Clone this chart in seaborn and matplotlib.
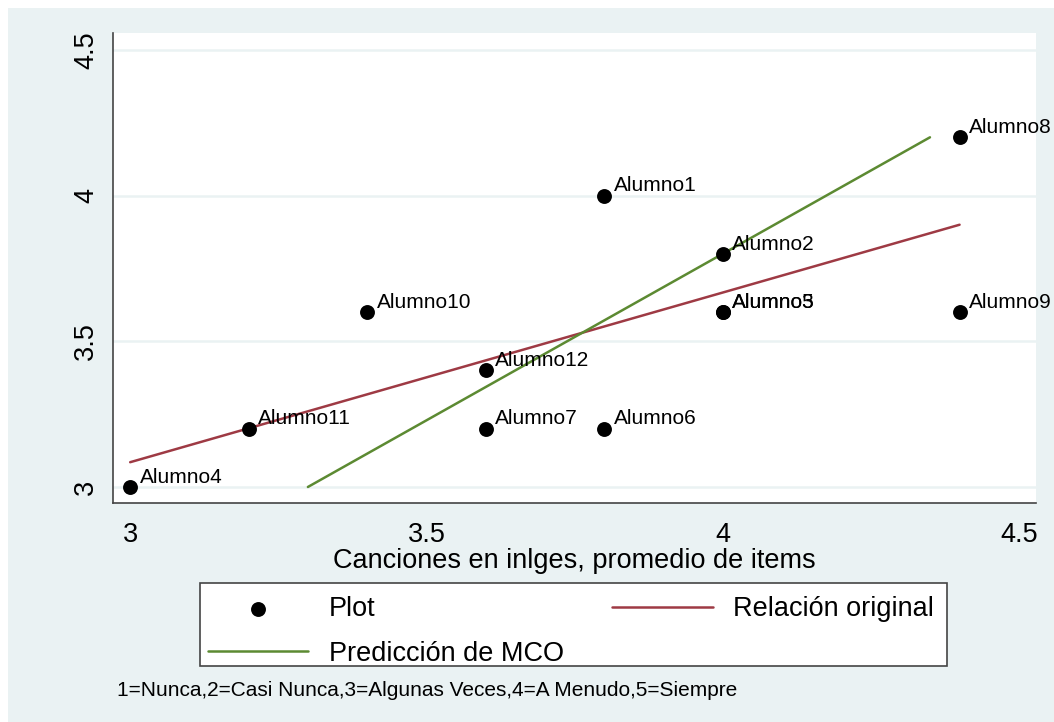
import matplotlib
matplotlib.use("Agg")
import matplotlib.pyplot as plt
import matplotlib.patches as mpatches
import seaborn as sns
import pandas as pd

# -----------------------------
# Data
# -----------------------------
alumnos = ["Alumno1", "Alumno2", "Alumno3", "Alumno4", "Alumno5", "Alumno6",
           "Alumno7", "Alumno8", "Alumno9", "Alumno10", "Alumno11", "Alumno12"]
canciones = [3.8, 4.0, 4.0, 3.0, 4.0, 3.8, 3.6, 4.4, 4.4, 3.4, 3.2, 3.6]
promedio = [4.0, 3.8, 3.6, 3.0, 3.6, 3.2, 3.2, 4.2, 3.6, 3.6, 3.2, 3.4]

# line end points
rel_x = [3.0, 4.4]
rel_y = [3.085, 3.90]
mco_x = [3.3, 4.35]
mco_y = [3.0, 4.2]

x_ticks = [3, 3.5, 4, 4.5]
y_ticks = [3, 3.5, 4, 4.5]
x_title = "Canciones en inlges, promedio de items"
note = "1=Nunca,2=Casi Nunca,3=Algunas Veces,4=A Menudo,5=Siempre"

df = pd.DataFrame({"alumno": alumnos, "x": canciones, "y": promedio})
df_rel = pd.DataFrame({"x": rel_x, "y": rel_y})
df_mco = pd.DataFrame({"x": mco_x, "y": mco_y})

# -----------------------------
# Style
# -----------------------------
sns.set_style("white")
plt.rcParams["font.family"] = ["Liberation Sans", "DejaVu Sans"]
plt.rcParams["text.color"] = "black"
plt.rcParams["axes.labelcolor"] = "black"

bg = "#eaf2f3"
red = "#9e3a44"
green = "#5c8a32"
dark = "#444444"

fig = plt.figure(figsize=(10.54, 7.22), dpi=100)
fig.patch.set_facecolor("white")
fig.patches.append(mpatches.Rectangle((8 / 1054, 0), 1, 1 - 8 / 722,
                                      transform=fig.transFigure,
                                      facecolor=bg, edgecolor="none", zorder=-10))
# legend box
fig.patches.append(mpatches.Rectangle((200 / 1054, 1 - 666 / 722),
                                      (947 - 200) / 1054, (666 - 583) / 722,
                                      transform=fig.transFigure,
                                      facecolor="white", edgecolor=dark,
                                      linewidth=1.2, zorder=-5))

ax = fig.add_axes([113 / 1054, 1 - 503 / 722, (1036 - 113) / 1054, (503 - 33) / 722])
ax.set_facecolor("white")
ax.set_zorder(1)

sns.scatterplot(data=df, x="x", y="y", ax=ax, color="black", s=115,
                edgecolor="black", linewidth=0, label="Plot", zorder=4)
sns.lineplot(data=df_rel, x="x", y="y", ax=ax, color=red, linewidth=1.8,
             sort=False, label="Relación original", zorder=3)
sns.lineplot(data=df_mco, x="x", y="y", ax=ax, color=green, linewidth=1.8,
             sort=False, label="Predicción de MCO", zorder=3)

for name, xv, yv in zip(alumnos, canciones, promedio):
    ax.annotate(name, (xv, yv), xytext=(7, 7), textcoords="offset points",
                ha="left", va="center", fontsize=15, color="black", zorder=5)

# -----------------------------
# Axes
# -----------------------------
ax.set_xlim(2.971, 4.529)
ax.set_ylim(2.945, 4.558)
ax.set_xticks(x_ticks)
ax.set_xticklabels(["3", "3.5", "4", "4.5"])
ax.set_yticks(y_ticks)
ax.set_yticklabels(["3", "3.5", "4", "4.5"])
ax.yaxis.grid(True, color=bg, linewidth=1.8, zorder=0)
ax.xaxis.grid(False)
ax.set_axisbelow(True)

for side in ["top", "right"]:
    ax.spines[side].set_visible(False)
for side in ["left", "bottom"]:
    ax.spines[side].set_color(dark)
    ax.spines[side].set_linewidth(1.2)

ax.tick_params(axis="both", direction="out", length=7.5, width=1.0,
               color=dark, labelsize=19.5, labelcolor="black", pad=6)
ax.tick_params(axis="y", labelrotation=90, pad=2.5)
for lab in ax.get_yticklabels():
    lab.set_va("center")

ax.set_xlabel(x_title, fontsize=19.5, labelpad=0, color="black")
ax.set_ylabel("")

# -----------------------------
# Legend
# -----------------------------
handles, labels = ax.get_legend_handles_labels()
ax.get_legend().remove()
order = [labels.index("Plot"), labels.index("Predicción de MCO"),
         labels.index("Relación original")]
leg = fig.legend([handles[i] for i in order], [labels[i] for i in order],
                 loc="upper left", bbox_to_anchor=(200 / 1054, 1 - 588 / 722),
                 bbox_transform=fig.transFigure, ncol=2, fontsize=19.5,
                 frameon=False, borderaxespad=0, borderpad=0.3,
                 handlelength=3.7, handletextpad=0.75, columnspacing=1.8,
                 labelspacing=0.68, markerscale=1.0)
for t in leg.get_texts():
    t.set_color("black")

fig.text(117 / 1054, 1 - 690 / 722, note, fontsize=15, ha="left", va="center",
         color="black")

plt.savefig("out.png", dpi=100, facecolor=fig.get_facecolor())
plt.close()
